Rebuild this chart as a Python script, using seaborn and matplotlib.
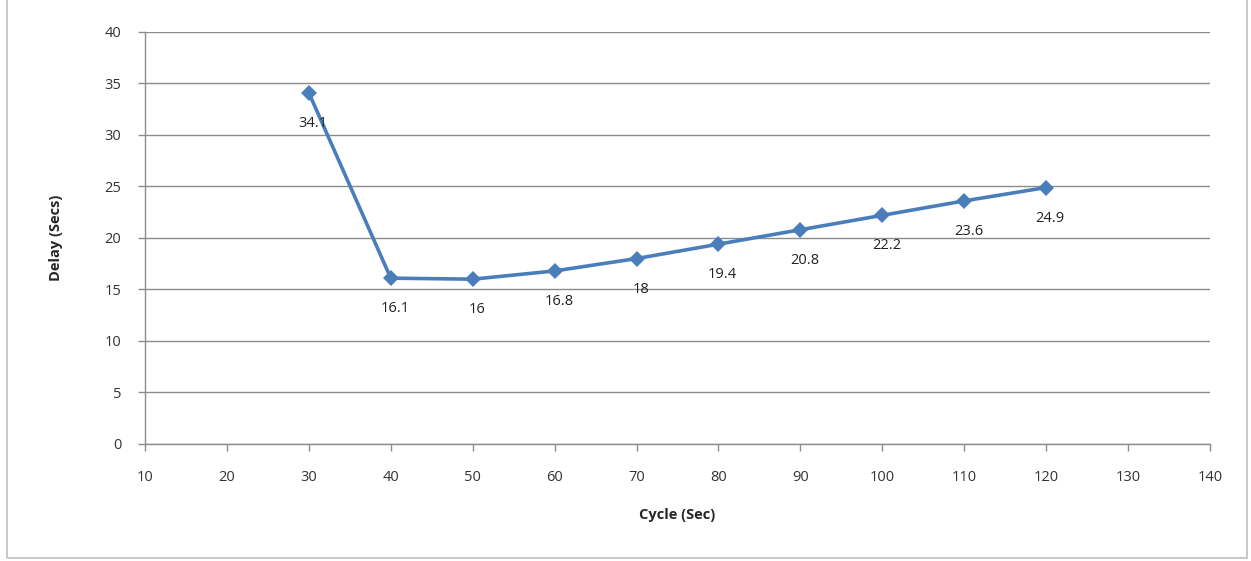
import pandas as pd
import seaborn as sns
import matplotlib.pyplot as plt
from matplotlib.patches import Rectangle

# 数据
cycle = [30, 40, 50, 60, 70, 80, 90, 100, 110, 120]
delay = [34.1, 16.1, 16, 16.8, 18, 19.4, 20.8, 22.2, 23.6, 24.9]
x_ticks = list(range(10, 141, 10))
y_ticks = list(range(0, 41, 5))

data = pd.DataFrame({'Cycle': cycle, 'Delay': delay})

sns.set_style('white')
plt.rcParams['font.family'] = ['Open Sans', 'DejaVu Sans']

fig = plt.figure(figsize=(12.51, 5.61), dpi=100)
ax = fig.add_axes([0.1159, 0.2086, 0.8513, 0.7344])

# 折线图
sns.lineplot(x='Cycle', y='Delay', data=data, ax=ax, color='#4a7ebb',
             linewidth=2.6, marker='D', markersize=8, markeredgewidth=0)

# 数据标签
for x, y in zip(cycle, delay):
    ax.annotate(f'{y:g}', (x, y), xytext=(3, -22), textcoords='offset points',
                ha='center', va='center', fontsize=10.5, color='#222222')

ax.set_xlim(10, 140)
ax.set_ylim(0, 40)
ax.set_xticks(x_ticks)
ax.set_yticks(y_ticks)
ax.yaxis.grid(True, color='#8c8c8c', linewidth=1)
ax.xaxis.grid(False)

for s in ['top', 'right']:
    ax.spines[s].set_visible(False)
for s in ['left', 'bottom']:
    ax.spines[s].set_color('#8c8c8c')
    ax.spines[s].set_linewidth(1)

ax.tick_params(axis='both', which='major', labelsize=10.5, colors='#8c8c8c',
               labelcolor='#333333', length=5, width=1, direction='out')
ax.tick_params(axis='x', pad=14)
ax.tick_params(axis='y', pad=12)
ax.tick_params(bottom=True, left=True)

ax.set_xlabel('Cycle (Sec)', fontsize=10.5, fontweight='bold', labelpad=16)
ax.set_ylabel('Delay (Secs)', fontsize=10.5, fontweight='bold', labelpad=30)

# 外边框
fig.patches.append(Rectangle((7 / 1251, 3 / 561), 1240 / 1251, 560 / 561,
                             transform=fig.transFigure, fill=False,
                             edgecolor='#bfbfbf', linewidth=1.2))

plt.savefig('out.png', dpi=100)
